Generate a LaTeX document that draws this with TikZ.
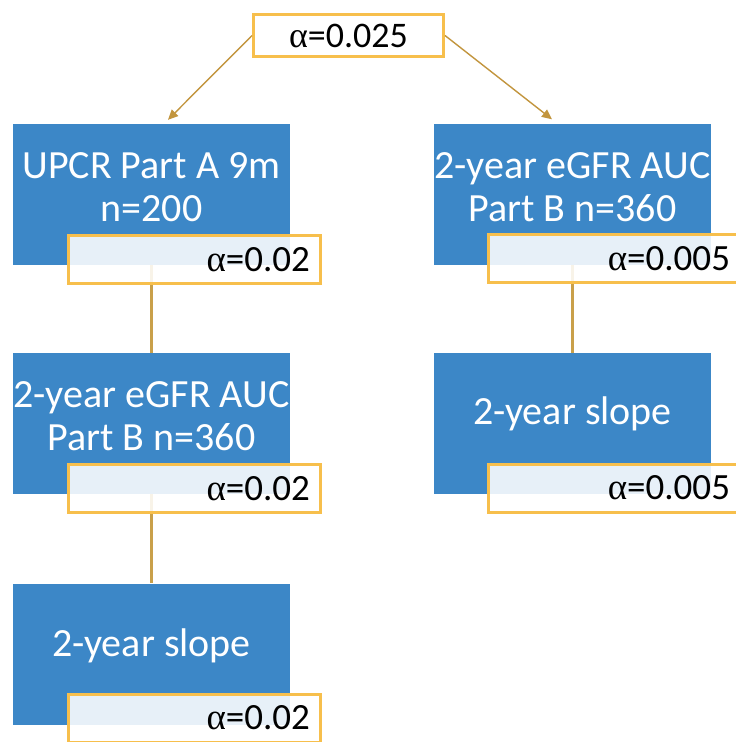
\documentclass[tikz,border=0pt]{standalone}
\usepackage{fontspec}
\setmainfont{Carlito}
\newfontfamily\grk{Liberation Serif}
\newcommand{\alf}{{\grk α}}
\usetikzlibrary{arrows.meta}
\definecolor{boxblue}{HTML}{3C87C7}
\definecolor{framegold}{HTML}{F7BF4C}
\definecolor{conngold}{HTML}{C2953E}
\definecolor{vgold}{HTML}{C9A04A}
\tikzset{
  bluebox/.style={fill=boxblue, draw=none, minimum width=277pt, minimum height=141pt, inner sep=0pt},
  boxtext/.style={text=white, align=center, font=\fontsize{40}{43}\selectfont, inner sep=0pt},
  alphabox/.style={draw=framegold, line width=3pt, fill=white, fill opacity=0.88, text opacity=1,
    minimum width=252pt, minimum height=48pt, inner xsep=10.5pt, inner ysep=0pt, text width=231pt, align=right,
    font=\fontsize{37}{43}\selectfont},
  topbox/.style={draw=framegold, line width=3pt, fill=white, minimum width=190pt, minimum height=42pt,
    inner sep=0pt, font=\fontsize{36}{40}\selectfont},
  conn/.style={draw=conngold, line width=1.4pt, -{Triangle[length=10pt,width=9pt]}},
  vline/.style={draw=vgold, line width=3pt}
}
\begin{document}
\begin{tikzpicture}[x=1pt,y=-1pt]
\useasboundingbox (0,0) rectangle (736,742);
\clip (0,0) rectangle (736,742);
% blue boxes
\node[bluebox] (b1) at (151.5,194.5) {};
\node[bluebox] (b2) at (151.5,423.5) {};
\node[bluebox] (b3) at (151.5,654) {};
\node[bluebox] (r1) at (572.5,194) {};
\node[bluebox] (r2) at (572.5,423.5) {};
\node[boxtext] (b1t) at (151.5,187) {UPCR Part A 9m\\n=200};
\node[boxtext] (b2t) at (151.5,416) {2-year eGFR AUC\\Part B n=360};
\node[boxtext] (b3t) at (151.5,646) {2-year slope};
\node[boxtext] (r1t) at (572.5,187) {2-year eGFR AUC\\Part B n=360};
\node[boxtext] (r2t) at (572.5,414) {2-year slope};
% top box
\node[topbox] (top) at (348.5,35.5) {\alf=0.025};
% connectors
\draw[conn] (top.west) -- ([xshift=16.5pt,yshift=4pt]b1.north);
\draw[conn] (top.east) -- ([xshift=-20.5pt,yshift=4pt]r1.north);
\draw[vline] (b1.south) -- (b2.north);
\draw[vline] (b2.south) -- (b3.north);
\draw[vline] (r1.south) -- (r2.north);
% alpha boxes
\node[alphabox] (a1) at (194.5,259.5) {\alf=0.02};
\node[alphabox] (a2) at (194.5,488.5) {\alf=0.02};
\node[alphabox] (a3) at (194.5,718) {\alf=0.02};
\node[alphabox] (ra1) at (614.5,258.5) {\alf=0.005};
\node[alphabox] (ra2) at (614.5,488) {\alf=0.005};
\end{tikzpicture}
\end{document}
